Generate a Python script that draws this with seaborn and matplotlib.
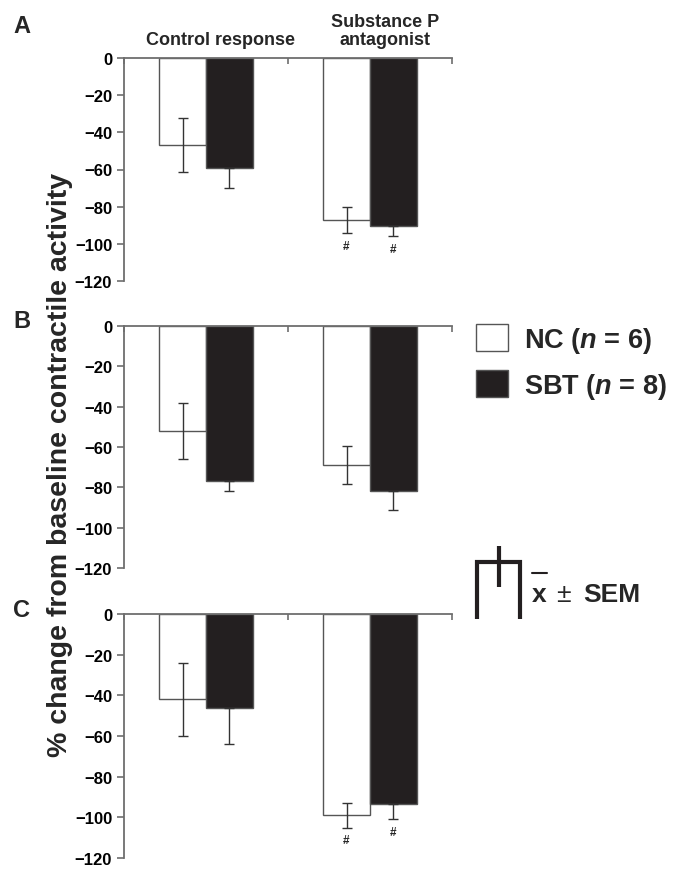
import matplotlib

matplotlib.use("Agg")
import matplotlib.pyplot as plt
import pandas as pd
import seaborn as sns
from matplotlib.lines import Line2D

# --- data ---------------------------------------------------------------
CONDITIONS = ["Control response", "Substance P\nantagonist"]
GROUPS = ["NC", "SBT"]
GROUP_LABELS = ["NC ($\\it{n}$ = 6)", "SBT ($\\it{n}$ = 8)"]
PANELS = ["A", "B", "C"]

A_NC_MEAN = [-47, -87]
A_NC_SEM = [14.5, 7]
A_SBT_MEAN = [-59, -90.5]
A_SBT_SEM = [11, 5.5]
A_SIG = [[False, True], [False, True]]

B_NC_MEAN = [-52, -69]
B_NC_SEM = [14, 9.5]
B_SBT_MEAN = [-77, -82]
B_SBT_SEM = [5, 9]
B_SIG = [[False, False], [False, False]]

C_NC_MEAN = [-42, -99]
C_NC_SEM = [18, 6]
C_SBT_MEAN = [-46, -93.5]
C_SBT_SEM = [18, 7.5]
C_SIG = [[False, True], [False, True]]

Y_TICKS = [0, -20, -40, -60, -80, -100, -120]

BAR_COLORS = {"NC": "white", "SBT": "#231f20"}
AXIS_GRAY = "#6e6e6e"
W, H = 679, 879


def panel_frame(nc_mean, nc_sem, sbt_mean, sbt_sem, sig):
    rows = []
    for gi, (means, sems) in enumerate([(nc_mean, nc_sem), (sbt_mean, sbt_sem)]):
        for ci, cond in enumerate(CONDITIONS):
            rows.append({"condition": cond, "group": GROUPS[gi],
                         "mean": means[ci], "sem": sems[ci], "sig": sig[gi][ci]})
    return pd.DataFrame(rows)


frames = {
    "A": panel_frame(A_NC_MEAN, A_NC_SEM, A_SBT_MEAN, A_SBT_SEM, A_SIG),
    "B": panel_frame(B_NC_MEAN, B_NC_SEM, B_SBT_MEAN, B_SBT_SEM, B_SIG),
    "C": panel_frame(C_NC_MEAN, C_NC_SEM, C_SBT_MEAN, C_SBT_SEM, C_SIG),
}

sns.set_theme(style="white")
plt.rcParams["font.family"] = ["Liberation Sans", "DejaVu Sans"]
plt.rcParams["font.weight"] = "bold"
plt.rcParams["mathtext.fontset"] = "custom"
plt.rcParams["mathtext.it"] = "Liberation Sans:italic:bold"
plt.rcParams["mathtext.rm"] = "Liberation Sans:bold"

fig = plt.figure(figsize=(W / 100, H / 100), dpi=100)

# axes boxes in pixels: (top, bottom)
boxes = {"A": (59, 282), "B": (327, 569), "C": (615, 859)}
left_px, right_px = 124, 452

axes = {}
for p in PANELS:
    top, bot = boxes[p]
    ax = fig.add_axes([left_px / W, 1 - bot / H, (right_px - left_px) / W, (bot - top) / H])
    axes[p] = ax
    df = frames[p]
    sns.barplot(data=df, x="condition", y="mean", hue="group",
                order=CONDITIONS, hue_order=GROUPS, palette=BAR_COLORS,
                saturation=1, width=0.573, errorbar=None, legend=False,
                edgecolor="#555555", linewidth=1.0, ax=ax)

    for gi, g in enumerate(GROUPS):
        for ci, cond in enumerate(CONDITIONS):
            bar = ax.containers[gi][ci]
            row = df[(df["group"] == g) & (df["condition"] == cond)].iloc[0]
            xc = bar.get_x() + bar.get_width() / 2
            # the upper half of the SEM is hidden inside the black bars
            upper = row["sem"] if g == "NC" else 0
            ax.errorbar(xc, row["mean"], yerr=[[row["sem"]], [upper]], fmt="none",
                        ecolor="#333333", elinewidth=1.0, capsize=3.5,
                        capthick=1.0, zorder=5)
            if row["sig"]:
                ax.annotate("#", (xc, row["mean"] - row["sem"]), xytext=(0, -5),
                            textcoords="offset points", ha="center", va="top",
                            fontsize=8.5, fontweight="bold")

    ax.set_xlim(-0.5, 1.5)
    ax.set_ylim(-120, 0)
    ax.set_yticks(Y_TICKS)
    ax.xaxis.tick_top()
    ax.set_xticks([-0.5, 0.5, 1.5])
    ax.set_xticklabels([])
    ax.set_xlabel("")
    ax.set_ylabel("")
    ax.tick_params(axis="x", direction="in", length=4, width=1.2, color=AXIS_GRAY)
    ax.tick_params(axis="y", direction="out", length=5, width=1.2, color=AXIS_GRAY,
                   labelcolor="black", labelsize=12, pad=3.5, left=True)
    for lab in ax.get_yticklabels():
        lab.set_fontweight("bold")
    for side in ["right", "bottom"]:
        ax.spines[side].set_visible(False)
    for side in ["top", "left"]:
        ax.spines[side].set_color(AXIS_GRAY)
        ax.spines[side].set_linewidth(1.3)

# condition titles above panel A
for ci, cond in enumerate(CONDITIONS):
    axes["A"].annotate(cond, xy=(ci + 0.09, 1), xycoords=axes["A"].get_xaxis_transform(),
                       xytext=(0, 7), textcoords="offset points", ha="center", va="bottom",
                       fontsize=13, fontweight="bold", linespacing=1.12)

# panel letters
for p, base in zip(PANELS, [33, 328, 617]):
    fig.text(13 / W, 1 - base / H, p, fontsize=17, fontweight="bold", va="baseline")

fig.text(60 / W, 1 - 465 / H, "% change from baseline contractile activity",
         rotation=90, ha="center", va="center", fontsize=20.5, fontweight="bold")

# legend
handles = [axes["A"].containers[0][0], axes["A"].containers[1][0]]
fig.legend(handles, GROUP_LABELS, loc="upper left", bbox_to_anchor=(476 / W, 1 - 325 / H),
           frameon=False, fontsize=19.5, handlelength=1.18, handleheight=1.18,
           handletextpad=0.6, labelspacing=0.55, borderpad=0, borderaxespad=0)


def fpt(x, y):
    return x / W, 1 - y / H


# mean +/- SEM key glyph
bx, by = zip(*[fpt(477, 620), fpt(477, 563), fpt(520, 563), fpt(520, 620)])
fig.add_artist(Line2D(bx, by, color="#231f20", lw=3.0, solid_joinstyle="miter",
                      solid_capstyle="butt"))
sx, sy = zip(*[fpt(499, 547), fpt(499, 588)])
fig.add_artist(Line2D(sx, sy, color="#231f20", lw=3.0, solid_capstyle="butt"))
fig.text(*fpt(532, 602), "x", fontsize=19, fontweight="bold", va="baseline")
ox, oy = zip(*[fpt(532, 574), fpt(547, 574)])
fig.add_artist(Line2D(ox, oy, color="#231f20", lw=1.5))
fig.text(*fpt(556, 602), "±", fontsize=19, fontweight="normal", va="baseline")
fig.text(*fpt(583, 602), "SEM", fontsize=19, fontweight="bold", va="baseline")

fig.savefig("out.png", dpi=100)
